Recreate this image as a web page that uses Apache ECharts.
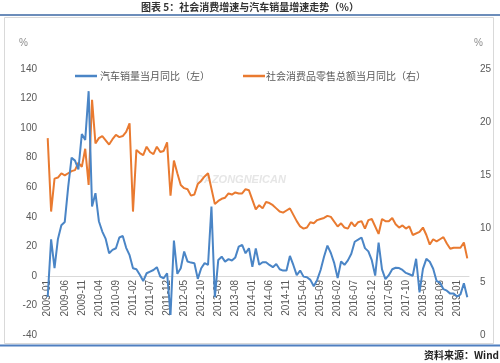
<!DOCTYPE html>
<html>
<head>
<meta charset="utf-8">
<script src="https://cdn.jsdelivr.net/npm/echarts@6/dist/echarts.min.js"></script>
<style>
html,body{margin:0;padding:0;background:#fff;}
#chart{width:500px;height:363px;}
</style>
</head>
<body>
<div id="chart"></div>
<script>
// ---- data ----
var startYear = 2009;
var monthCount = 124; // 2009-01 .. 2019-04
var categories = [];
for (var k = 0; k < monthCount; k++) {
  var y = startYear + Math.floor(k / 12), m = (k % 12) + 1;
  categories.push(y + '-' + (m < 10 ? '0' + m : m));
}

var autoSales2009 = [-14.4, 24.7, 5.2, 25, 34.3, 36.5, 60, 80, 78, 72, 96, 92];
var autoSales2010 = [125, 47, 56, 37, 30, 25, 15.3, 17.6, 18.7, 26, 27, 19];
var autoSales2011 = [14, 5.2, 4.5, 0.7, -3.5, 1.8, 2.9, 4, 5.9, -0.5, -1.6, 1.8];
var autoSales2012 = [-26.4, 23.9, 1.4, 5.2, 16.5, 9.7, 9, 8.6, -2, 5.2, 8.6, 7.4];
var autoSales2013 = [47, -14.5, 10.8, 13, 9.7, 11.3, 10.4, 12.5, 19.8, 21, 15.3, 18.7];
var autoSales2014 = [6.1, 18.6, 7.5, 9.2, 9.2, 7.4, 5.9, 8, 4.5, 3.6, 3.6, 13.5];
var autoSales2015 = [7.4, 0.5, 3.6, -0.5, -0.9, -2.7, -7, -2.7, 4, 13, 20.5, 15.5];
var autoSales2016 = [8.6, -1.5, 9.7, 7.5, 10.5, 15, 23.1, 24.5, 26, 18.8, 16.6, 10.6];
var autoSales2017 = [0.2, 22.5, 4.4, -2.2, 0.5, 4.5, 5.5, 5.3, 4, 2, 1.1, 0.1];
var autoSales2018 = [11.6, -11.1, 4.7, 11.5, 9.6, 4.8, -3.5, -4.5, -9, -10, -12, -12];
var autoSales2019 = [-14, -12.5, -5, -14.5];

var retail2009 = [18.5, 11.6, 14.7, 14.8, 15.2, 15.0, 15.2, 15.4, 15.5, 16.2, 15.8, 17.5];
var retail2010 = [14.1, 22.1, 18.0, 18.5, 18.7, 18.3, 17.9, 18.4, 18.8, 18.6, 18.7, 19.1];
var retail2011 = [19.9, 11.6, 17.4, 17.1, 16.9, 17.7, 17.2, 17.0, 17.7, 17.2, 17.3, 18.1];
var retail2012 = [13.1, 16.4, 15.2, 14.1, 13.8, 13.7, 13.1, 13.2, 14.2, 14.5, 14.9, 15.2];
var retail2013 = [null, 12.3, 12.6, 12.8, 12.9, 13.3, 13.2, 13.4, 13.3, 13.3, 13.7, 13.6];
var retail2014 = [null, 11.8, 12.2, 11.9, 12.5, 12.4, 12.2, 11.9, 11.6, 11.5, 11.7, 11.9];
var retail2015 = [null, 10.7, 10.2, 10.0, 10.1, 10.6, 10.5, 10.8, 10.9, 11.0, 11.2, 11.1];
var retail2016 = [null, 10.2, 10.5, 10.1, 10.0, 10.6, 10.2, 10.6, 10.7, 10.0, 10.8, 10.9];
var retail2017 = [null, 9.5, 10.9, 10.7, 10.7, 11.0, 10.4, 10.1, 10.3, 10.0, 10.2, 9.4];
var retail2018 = [null, 9.7, 10.1, 9.4, 8.5, 9.0, 8.8, 9.0, 9.2, 8.6, 8.1, 8.2];
var retail2019 = [null, 8.2, 8.7, 7.2];

var autoSales = [].concat(autoSales2009, autoSales2010, autoSales2011, autoSales2012, autoSales2013,
  autoSales2014, autoSales2015, autoSales2016, autoSales2017, autoSales2018, autoSales2019);
var retail = [].concat(retail2009, retail2010, retail2011, retail2012, retail2013,
  retail2014, retail2015, retail2016, retail2017, retail2018, retail2019);

var leftTicks = { min: -40, max: 140, interval: 20 };
var rightTicks = { min: 0, max: 25, interval: 5 };

var seriesNames = ['汽车销量当月同比（左）', '社会消费品零售总额当月同比（右）'];
var titleText = '图表 5：社会消费增速与汽车销量增速走势（%）';
var sourceText = '资料来源：Wind';

// ---- chart ----
var FONT = "'Liberation Sans','Noto Sans CJK SC',sans-serif";
var CJK = "'Noto Sans CJK SC',sans-serif";
var gridTop = 69, gridBottom = 28, chartH = 363;
var gridH = chartH - gridTop - gridBottom;
// place the category axis at the left axis' zero (label row follows the line)
var zeroOffset = -gridH * (0 - leftTicks.min) / (leftTicks.max - leftTicks.min);

var chart = echarts.init(document.getElementById('chart'), null, { renderer: 'canvas' });
chart.setOption({
  animation: false,
  backgroundColor: '#ffffff',
  grid: { left: 46, right: 31, top: gridTop, bottom: gridBottom, containLabel: false },
  graphic: [
    { type: 'rect', z: 0, shape: { x: 4.5, y: 17.5, width: 489, height: 326 },
      style: { fill: 'none', stroke: '#d9d9d9', lineWidth: 1 } },
    { type: 'line', z: 1, shape: { x1: 0, y1: 15, x2: 500, y2: 15 },
      style: { stroke: '#3b67a3', lineWidth: 1.5 } },
    { type: 'line', z: 1, shape: { x1: 0, y1: 345.5, x2: 500, y2: 345.5 },
      style: { stroke: '#4f7fc0', lineWidth: 2 } },
    { type: 'text', z: 1, left: 'center', top: 2,
      style: { text: titleText, font: 'bold 10px ' + CJK, fill: '#333333' } },
    { type: 'text', z: 1, right: 1, top: 350,
      style: { text: sourceText, font: 'bold 10px ' + CJK, fill: '#222222' } },
    { type: 'text', z: 1, left: 19, top: 38,
      style: { text: '%', font: '10px ' + FONT, fill: '#8c8c8c' } },
    { type: 'text', z: 1, left: 474, top: 38,
      style: { text: '%', font: '10px ' + FONT, fill: '#8c8c8c' } },
    { type: 'text', z: 0, left: 196, top: 174,
      style: { text: 'DAZONGNEICAN', font: 'italic bold 11px ' + FONT, fill: '#e6e6e6' } }
  ],
  legend: [
    { data: [seriesNames[0]], left: 70, top: 66, icon: 'rect', itemWidth: 22, itemHeight: 2.5,
      itemGap: 0, textStyle: { fontSize: 10, color: '#595959', fontFamily: CJK, padding: [0, 0, 0, -2] } },
    { data: [seriesNames[1]], left: 238, top: 66, icon: 'rect', itemWidth: 22, itemHeight: 2.5,
      itemGap: 0, textStyle: { fontSize: 10, color: '#595959', fontFamily: CJK, padding: [0, 0, 0, -4] } }
  ],
  xAxis: {
    type: 'category',
    data: categories,
    boundaryGap: true,
    position: 'bottom',
    offset: zeroOffset,
    axisLine: { onZero: false, lineStyle: { color: '#d9d9d9', width: 1 } },
    axisTick: { show: false },
    axisLabel: { interval: 4, rotate: 90, margin: 4, fontSize: 10, color: '#595959', fontFamily: FONT },
    splitLine: { show: false }
  },
  yAxis: [
    { type: 'value', position: 'left', min: leftTicks.min, max: leftTicks.max, interval: leftTicks.interval,
      axisLine: { show: false }, axisTick: { show: false }, splitLine: { show: false },
      axisLabel: { margin: 9, fontSize: 10, color: '#595959', fontFamily: FONT } },
    { type: 'value', position: 'right', min: rightTicks.min, max: rightTicks.max, interval: rightTicks.interval,
      axisLine: { show: false }, axisTick: { show: false }, splitLine: { show: false },
      axisLabel: { margin: 11, fontSize: 10, color: '#595959', fontFamily: FONT } }
  ],
  series: [
    { name: seriesNames[0], type: 'line', yAxisIndex: 0, data: autoSales, showSymbol: false,
      symbol: 'none', z: 3, lineStyle: { color: '#4a85c6', width: 2 }, itemStyle: { color: '#4a85c6' } },
    { name: seriesNames[1], type: 'line', yAxisIndex: 1, data: retail, showSymbol: false,
      symbol: 'none', connectNulls: true, z: 2, lineStyle: { color: '#e97a30', width: 2 }, itemStyle: { color: '#e97a30' } }
  ]
});
</script>
</body>
</html>
